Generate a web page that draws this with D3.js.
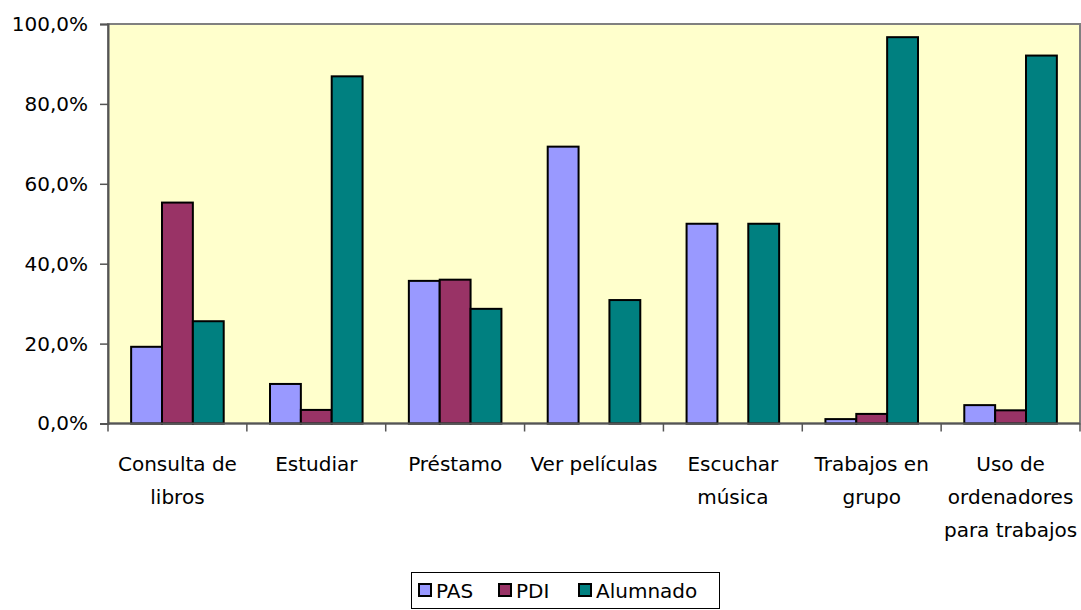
<!DOCTYPE html>
<html>
<head>
<meta charset="utf-8">
<script src="https://cdn.jsdelivr.net/npm/d3@7"></script>
<style>
  body { margin: 0; background: #fff; }
  svg { display: block; }
</style>
</head>
<body>
<svg id="chart" width="1081" height="610"></svg>
<script>
// data (percent)
const categories = [
  ["Consulta de", "libros"],
  ["Estudiar"],
  ["Préstamo"],
  ["Ver películas"],
  ["Escuchar", "música"],
  ["Trabajos en", "grupo"],
  ["Uso de", "ordenadores", "para trabajos"]
];
const series = ["PAS", "PDI", "Alumnado"];
const pas      = [19.2, 9.9, 35.7, 69.3, 50.0, 1.1, 4.6];
const pdi      = [55.3, 3.4, 36.0, 0, 0, 2.4, 3.3];
const alumnado = [25.6, 86.9, 28.7, 30.9, 50.0, 96.7, 92.1];
const yTicks = [0, 20, 40, 60, 80, 100];

const colors = { PAS: "#9999FF", PDI: "#993366", Alumnado: "#008080" };
const values = { PAS: pas, PDI: pdi, Alumnado: alumnado };
// no serif face installed, DejaVu Sans is closest in width to the original
const FONT = "'DejaVu Sans', 'Liberation Serif', serif";

const svg = d3.select("#chart").attr("font-family", FONT);
const m = { left: 108, top: 24, right: 1080, bottom: 423.5 };

const catIdx = categories.map((c, i) => i);
const x0 = d3.scaleBand().domain(catIdx).range([m.left, m.right]).paddingInner(0).paddingOuter(0);
const x1 = d3.scaleBand().domain(series).range([0, x0.bandwidth()]).paddingInner(0).paddingOuter(0.75);
const y = d3.scaleLinear().domain([0, 100]).range([m.bottom, m.top]);

const es = d3.formatLocale({ decimal: ",", thousands: ".", grouping: [3], currency: ["", "€"] });
const fmt = v => es.format(".1f")(v) + "%";

// plot background
svg.append("rect")
  .attr("x", m.left).attr("y", m.top)
  .attr("width", m.right - m.left).attr("height", m.bottom - m.top)
  .attr("fill", "#FFFFCC").attr("stroke", "#808080").attr("stroke-width", 2);

// bars
const groups = svg.append("g").selectAll("g")
  .data(catIdx).join("g")
  .attr("transform", i => `translate(${x0(i)},0)`);

groups.selectAll("rect")
  .data(i => series.map(s => ({ s, v: values[s][i] })).filter(d => d.v > 0))
  .join("rect")
  .attr("x", d => x1(d.s))
  .attr("y", d => y(d.v))
  .attr("width", x1.bandwidth())
  .attr("height", d => y(0) - y(d.v))
  .attr("fill", d => colors[d.s])
  .attr("stroke", "#000").attr("stroke-width", 2);

// y axis
const yAxis = svg.append("g")
  .attr("transform", `translate(${m.left},0)`)
  .call(d3.axisLeft(y).tickValues(yTicks).tickSize(8).tickPadding(12).tickFormat(fmt))
  .attr("font-family", FONT).attr("font-size", 20);
yAxis.select(".domain").attr("stroke", "#555").attr("stroke-width", 2);
yAxis.selectAll(".tick line").attr("stroke", "#555").attr("stroke-width", 1.5);
yAxis.selectAll(".tick text").attr("fill", "#000");

// x axis baseline + ticks at category boundaries
const xb = svg.append("g");
xb.append("line")
  .attr("x1", m.left).attr("x2", m.right).attr("y1", m.bottom).attr("y2", m.bottom)
  .attr("stroke", "#555").attr("stroke-width", 2);
xb.selectAll("line.tk")
  .data(catIdx.concat([categories.length]))
  .join("line").attr("class", "tk")
  .attr("x1", i => m.left + i * x0.step()).attr("x2", i => m.left + i * x0.step())
  .attr("y1", m.bottom).attr("y2", m.bottom + 8)
  .attr("stroke", "#555").attr("stroke-width", 1.5);

// category labels
const lab = svg.append("g").attr("font-size", 20).selectAll("text")
  .data(catIdx).join("text")
  .attr("text-anchor", "middle")
  .attr("transform", i => `translate(${x0(i) + x0.bandwidth() / 2},471)`);
lab.selectAll("tspan")
  .data(i => categories[i])
  .join("tspan")
  .attr("x", 0).attr("y", (d, j) => j * 33)
  .text(d => d);

// legend
const lg = svg.append("g").attr("font-size", 20);
lg.append("rect")
  .attr("x", 411.5).attr("y", 572.5).attr("width", 308).attr("height", 36)
  .attr("fill", "#fff").attr("stroke", "#000").attr("stroke-width", 1);
const legX = [419, 499, 579];
series.forEach((s, i) => {
  lg.append("rect")
    .attr("x", legX[i]).attr("y", 584).attr("width", 12).attr("height", 12)
    .attr("fill", colors[s]).attr("stroke", "#000").attr("stroke-width", 2);
  lg.append("text")
    .attr("x", legX[i] + 17).attr("y", 598)
    .text(s);
});
</script>
</body>
</html>
